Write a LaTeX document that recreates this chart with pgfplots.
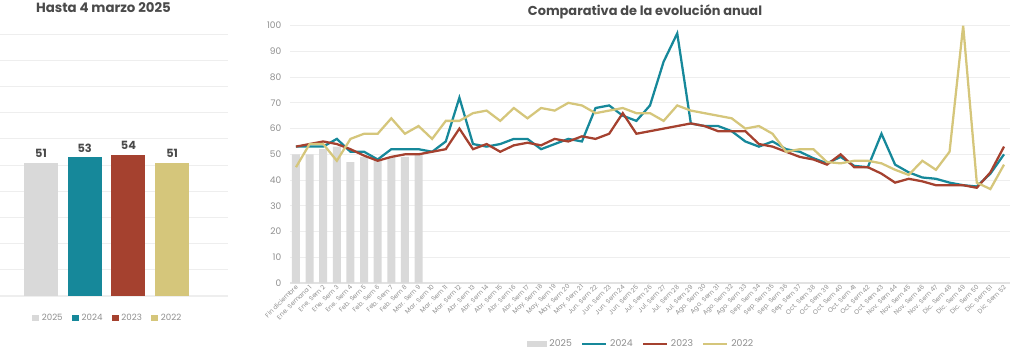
\documentclass[border=0pt]{standalone}
\usepackage{pgfplots}
\pgfplotsset{compat=1.18}
\usepackage{pgfplotstable}
\usepackage{fontspec}
\setmainfont{Poppins}
\definecolor{c25}{HTML}{D9D9D9}
\definecolor{c24}{HTML}{16889A}
\definecolor{c23}{HTML}{A5412F}
\definecolor{c22}{HTML}{D5C67B}
\definecolor{gridc}{HTML}{EEEEEE}
\definecolor{basec}{HTML}{E2E2E2}
\definecolor{txt}{HTML}{4A4A4A}
\definecolor{tickc}{HTML}{8E8E8E}

\pgfplotstableread{
x y24 y23 y22
0 53 53 45
1 53 54 54
2 53 55 54
3 56 54 47.5
4 51 52 56
5 51 49.5 58
6 48 47.5 58
7 52 49 64
8 52 50 58
9 52 50 61
10 51 51 56
11 55 52 63
12 72 60 63
13 54 52 66
14 53 54 67
15 54 51 63
16 56 53.5 68
17 56 54.5 64
18 52 53.5 68
19 54 56 67
20 56 55 70
21 55 57 69
22 68 56 66
23 69 58 67
24 65 66 68
25 63 58 66
26 69 59 66
27 86 60 63
28 97 61 69
29 62 62 67
30 61 61 66
31 61 59 65
32 59 59 64
33 55 59 60
34 53 54 61
35 55 53 58
36 52 51 51
37 51 49 52
38 48.5 48 52
39 46.5 46 47
40 49 50 46.5
41 45.5 45 47.5
42 45 45 47.5
43 58 42.5 46.5
44 46 39 44
45 43 40.5 42
46 41 39.5 47.5
47 40.5 38 44
48 39 38 51
49 38 38 100
50 37.5 37 39
51 42.5 43 36.5
52 50 53 46
}\weekly

\pgfplotstableread{
x y
0 50
1 50
2 52
3 53
4 47
5 49
6 48
7 49
8 49
9 50
}\bars

\begin{document}
\begin{tikzpicture}
\path[use as bounding box] (0pt,0pt) rectangle (768pt,265.5pt);

% ---------------- left chart ----------------
\begin{axis}[
  at={(0pt,43.5pt)}, anchor=south west, scale only axis,
  width=171pt, height=196.3pt,
  xmin=-0.94, xmax=4.28, ymin=0, ymax=100,
  ytick={0,10,...,100}, yticklabels={},
  xtick=\empty,
  ymajorgrids, grid style={gridc, line width=0.8pt},
  axis line style={draw=none}, major tick length=0pt,
  /pgf/number format/assume math mode=true,
  ybar, bar width=25.5pt, bar shift=0pt,
  nodes near coords,
  nodes near coords style={font=\bfseries\fontsize{8.5}{9}\selectfont, text=txt, inner sep=3.5pt},
  legend columns=4,
  legend style={at={(axis description cs:0.474,-0.084)}, anchor=center, draw=none, fill=none,
    font=\fontsize{6.5}{7}\selectfont, text=tickc,
    /tikz/every even column/.append style={column sep=5pt}},
  legend image code/.code={\fill[#1] (0pt,-2.6pt) rectangle (5.2pt,2.6pt);},
]
\addplot[fill=c25, draw=none] coordinates {(0,51)};
\addplot[fill=c24, draw=none] coordinates {(1,53)};
\addplot[fill=c23, draw=none] coordinates {(2,54)};
\addplot[fill=c22, draw=none] coordinates {(3,51)};
\legend{2025,2024,2023,2022}
\end{axis}

\node[font=\bfseries\fontsize{10}{11}\selectfont, text=txt] at (77.6pt,259.5pt) {Hasta 4 marzo 2025};

% ---------------- right chart ----------------
\begin{axis}[
  at={(217.5pt,53.25pt)}, anchor=south west, scale only axis,
  width=540pt, height=193pt,
  xmin=-0.44, xmax=52.44, ymin=0, ymax=100,
  ytick={0,10,...,100},
  ymajorgrids, grid style={gridc, line width=0.8pt},
  extra y ticks={0}, extra y tick labels={},
  extra y tick style={grid style={basec, line width=1.3pt}},
  axis line style={draw=none}, major tick length=0pt,
  yticklabel style={font=\fontsize{6.8}{7}\selectfont, text=tickc, xshift=-3pt},
  /pgf/number format/assume math mode=true,
  xtick={0,...,52},
  xticklabels={Fin diciembre, Ene. Semana 1, Ene. Sem 2, Ene. Sem 3, Ene. Sem 4,
    Feb. Sem 5, Feb. Sem 6, Feb. Sem 7, Feb. Sem 8,
    Mar. Sem 9, Mar. Sem 10, Mar. Sem 11, Mar. Sem 12,
    Abr. Sem 13, Abr. Sem 14, Abr. Sem 15, Abr. Sem 16, Abr. Sem 17,
    May. Sem 18, May. Sem 19, May. Sem 20, May. Sem 21,
    Jun. Sem 22, Jun. Sem 23, Jun. Sem 24, Jun. Sem 25,
    Jul. Sem 26, Jul. Sem 27, Jul. Sem 28, Jul. Sem 29,
    Ago. Sem 30, Ago. Sem 31, Ago. Sem 32, Ago. Sem 33,
    Sep. Sem 34, Sep. Sem 35, Sep. Sem 36, Sep. Sem 37,
    Oct. Sem 38, Oct. Sem 39, Oct. Sem 40, Oct. Sem 41, Oct. Sem 42, Oct. Sem 43,
    Nov. Sem 44, Nov. Sem 45, Nov. Sem 46, Nov. Sem 47,
    Dic. Sem 48, Dic. Sem 49, Dic. Sem 50, Dic. Sem 51, Dic. Sem 52},
  xticklabel style={rotate=45, anchor=east, font=\fontsize{4.8}{5}\selectfont, text=tickc, inner sep=1pt, yshift=-2pt},
  legend columns=4,
  legend style={at={(axis description cs:0.488,-0.237)}, anchor=center, draw=none, fill=none,
    font=\fontsize{7}{8}\selectfont, text=tickc,
    /tikz/every even column/.append style={column sep=5pt}},
]
\addplot[ybar, bar width=6pt, bar shift=0pt, fill=c25, draw=none,
  legend image code/.code={\fill[c25] (0pt,-2.6pt) rectangle (15pt,2.6pt);}]
  table[x=x, y=y] {\bars};
\addplot[c24, line width=1.7pt, mark=none,
  legend image code/.code={\draw[c24, line width=1.7pt] (0pt,0pt) -- (18pt,0pt);}]
  table[x=x, y=y24] {\weekly};
\addplot[c23, line width=1.7pt, mark=none,
  legend image code/.code={\draw[c23, line width=1.7pt] (0pt,0pt) -- (18pt,0pt);}]
  table[x=x, y=y23] {\weekly};
\addplot[c22, line width=1.7pt, mark=none,
  legend image code/.code={\draw[c22, line width=1.7pt] (0pt,0pt) -- (18pt,0pt);}]
  table[x=x, y=y22] {\weekly};
\legend{2025,2024,2023,2022}
\end{axis}

\node[font=\bfseries\fontsize{9.7}{11}\selectfont, text=txt] at (483.75pt,256.5pt) {Comparativa de la evolución anual};
\end{tikzpicture}
\end{document}
